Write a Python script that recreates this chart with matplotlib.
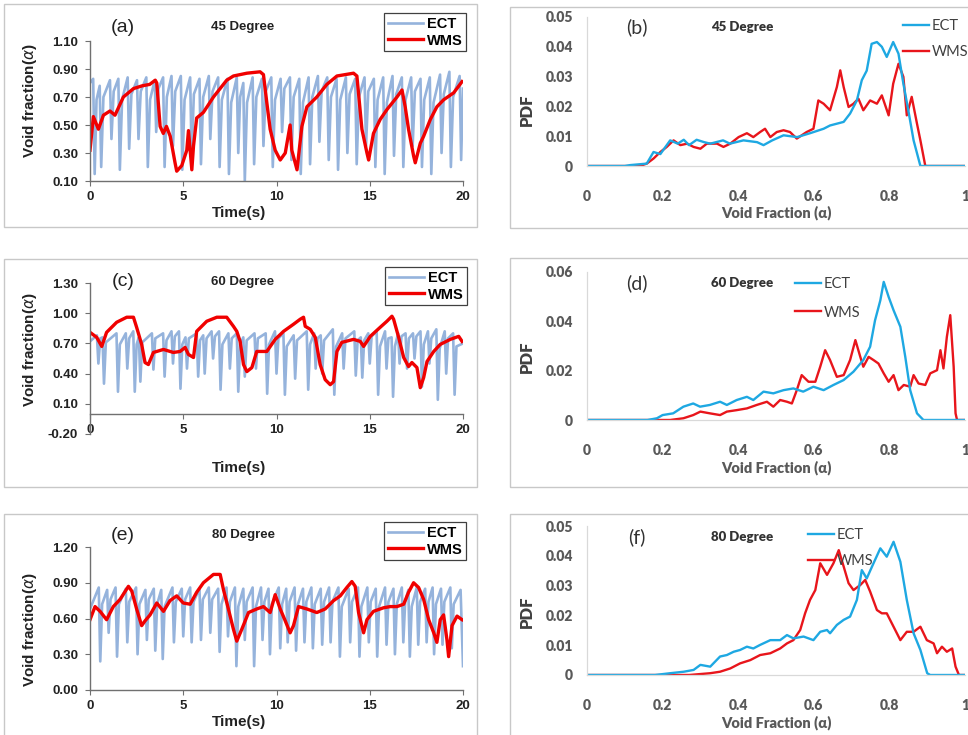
import matplotlib.pyplot as plt
from matplotlib.patches import Rectangle

# ---- time series data ----
# (a) 45 degree
ect_a_t = [0.00,
    0.17, 0.25, 0.35, 0.52, 0.60, 0.72, 1.07, 1.15, 1.27, 1.52, 1.60, 1.72, 2.02, 2.10, 2.22, 2.52, 2.60, 2.72,
    3.02, 3.10, 3.22, 3.47, 3.55, 3.67, 3.92, 4.00, 4.12, 4.37, 4.45, 4.57, 4.87, 4.95, 5.07, 5.37, 5.45, 5.57,
    5.87, 5.95, 6.07, 6.37, 6.45, 6.57, 6.87, 6.95, 7.07, 7.37, 7.45, 7.57, 7.87, 7.95, 8.05, 8.22, 8.30, 8.42,
    8.72, 8.80, 8.92, 9.22, 9.30, 9.42, 9.72, 9.80, 9.92, 10.22, 10.30, 10.42, 10.72, 10.80, 10.92, 11.22, 11.30, 11.42,
    11.72, 11.80, 11.92, 12.22, 12.30, 12.42, 12.72, 12.80, 12.92, 13.22, 13.30, 13.42, 13.72, 13.80, 13.92, 14.22, 14.30, 14.42,
    14.72, 14.80, 14.92, 15.22, 15.30, 15.42, 15.72, 15.80, 15.92, 16.22, 16.30, 16.42, 16.72, 16.80, 16.92, 17.22, 17.30, 17.42,
    17.72, 17.80, 17.92, 18.22, 18.30, 18.42, 18.77, 18.85, 18.97, 19.27, 19.35, 19.47, 19.82, 19.90, 20.00]
ect_a_v = [0.80,
    0.83, 0.15, 0.68, 0.78, 0.20, 0.70, 0.82, 0.40, 0.74, 0.83, 0.18, 0.68, 0.84, 0.33, 0.72, 0.82, 0.40, 0.74,
    0.84, 0.20, 0.68, 0.82, 0.45, 0.76, 0.84, 0.20, 0.70, 0.85, 0.35, 0.74, 0.85, 0.18, 0.68, 0.84, 0.28, 0.72,
    0.83, 0.22, 0.70, 0.85, 0.40, 0.74, 0.84, 0.20, 0.68, 0.83, 0.15, 0.66, 0.84, 0.30, 0.70, 0.80, 0.10, 0.66,
    0.84, 0.22, 0.70, 0.83, 0.35, 0.74, 0.84, 0.20, 0.68, 0.83, 0.45, 0.76, 0.84, 0.25, 0.70, 0.83, 0.15, 0.66,
    0.84, 0.22, 0.70, 0.85, 0.38, 0.74, 0.84, 0.25, 0.70, 0.83, 0.18, 0.68, 0.84, 0.30, 0.72, 0.83, 0.22, 0.70,
    0.84, 0.35, 0.74, 0.83, 0.20, 0.68, 0.84, 0.15, 0.66, 0.85, 0.28, 0.72, 0.84, 0.20, 0.68, 0.84, 0.35, 0.74,
    0.83, 0.20, 0.68, 0.84, 0.15, 0.66, 0.86, 0.30, 0.72, 0.88, 0.20, 0.70, 0.85, 0.25, 0.76]
wms_a_t = [0.00, 0.18, 0.45, 0.72, 1.07, 1.34, 1.79, 2.33, 2.80, 3.20, 3.50, 3.58, 3.76, 3.93, 4.10, 4.30,
    4.56, 4.65, 4.92, 5.19, 5.28, 5.46, 5.55, 5.72, 6.08, 6.62, 7.33, 7.69, 8.41, 9.12, 9.30, 9.48, 9.66, 9.93,
    10.20, 10.47, 10.73, 10.82, 11.10, 11.36, 11.63, 12.16, 12.70, 13.24, 14.13, 14.31, 14.58, 14.85, 14.94,
    15.20, 15.56, 15.92, 16.46, 16.73, 16.90, 17.08, 17.35, 17.44, 17.71, 17.89, 18.25, 18.60, 18.96, 19.50, 19.95]
wms_a_v = [0.32, 0.56, 0.47, 0.57, 0.60, 0.57, 0.70, 0.76, 0.78, 0.79, 0.82, 0.80, 0.49, 0.44, 0.49, 0.42,
    0.23, 0.17, 0.21, 0.32, 0.46, 0.18, 0.35, 0.55, 0.59, 0.70, 0.82, 0.85, 0.87, 0.88, 0.86, 0.66, 0.47, 0.32,
    0.25, 0.30, 0.50, 0.32, 0.18, 0.49, 0.63, 0.70, 0.79, 0.85, 0.87, 0.85, 0.47, 0.30, 0.25,
    0.44, 0.54, 0.61, 0.70, 0.75, 0.63, 0.47, 0.28, 0.23, 0.37, 0.42, 0.54, 0.63, 0.68, 0.73, 0.81]

# (c) 60 degree
ect_c_t = [0.00,
    0.37, 0.45, 0.55, 0.67, 0.75, 0.85, 1.42, 1.50, 1.60, 1.92, 2.00, 2.10, 2.32, 2.40, 2.50, 2.62, 2.70, 2.80,
    3.32, 3.40, 3.50, 3.92, 4.00, 4.10, 4.37, 4.45, 4.55, 4.77, 4.85, 4.95, 5.12, 5.20, 5.30, 5.72, 5.80, 5.90,
    6.07, 6.15, 6.25, 6.52, 6.60, 6.70, 6.92, 7.00, 7.10, 7.42, 7.50, 7.60, 7.87, 7.95, 8.05, 8.22, 8.30, 8.40,
    8.82, 8.90, 9.00, 9.42, 9.50, 9.60, 9.92, 10.00, 10.10, 10.37, 10.45, 10.55, 10.92, 11.00, 11.10, 11.62, 11.70, 11.80,
    12.02, 12.10, 12.20, 12.37, 12.45, 12.55, 13.02, 13.10, 13.20, 13.52, 13.60, 13.70, 14.17, 14.25, 14.35, 14.52, 14.60, 14.70,
    14.92, 15.00, 15.10, 15.37, 15.45, 15.55, 15.82, 15.90, 16.00, 16.17, 16.25, 16.35, 16.52, 16.60, 16.70, 16.92, 17.00, 17.10,
    17.32, 17.40, 17.50, 17.72, 17.80, 17.90, 18.12, 18.20, 18.30, 18.57, 18.65, 18.75, 19.02, 19.10, 19.20, 19.47, 19.55, 19.65,
    20.00]
ect_c_v = [0.72,
    0.78, 0.50, 0.75, 0.76, 0.30, 0.71, 0.80, 0.22, 0.69, 0.80, 0.45, 0.75, 0.82, 0.22, 0.69, 0.76, 0.32, 0.71,
    0.80, 0.44, 0.75, 0.80, 0.37, 0.73, 0.82, 0.50, 0.77, 0.82, 0.25, 0.69, 0.76, 0.45, 0.75, 0.80, 0.37, 0.73,
    0.78, 0.40, 0.75, 0.82, 0.55, 0.77, 0.82, 0.24, 0.69, 0.80, 0.45, 0.75, 0.80, 0.22, 0.69, 0.76, 0.37, 0.73,
    0.80, 0.45, 0.75, 0.80, 0.20, 0.69, 0.82, 0.40, 0.75, 0.80, 0.19, 0.67, 0.78, 0.35, 0.73, 0.82, 0.24, 0.69,
    0.80, 0.45, 0.75, 0.78, 0.40, 0.73, 0.84, 0.19, 0.67, 0.80, 0.45, 0.75, 0.82, 0.38, 0.73, 0.76, 0.36, 0.73,
    0.80, 0.50, 0.77, 0.82, 0.19, 0.67, 0.82, 0.45, 0.75, 0.76, 0.17, 0.67, 0.80, 0.50, 0.77, 0.80, 0.45, 0.75,
    0.80, 0.55, 0.77, 0.82, 0.27, 0.69, 0.82, 0.50, 0.75, 0.84, 0.14, 0.65, 0.82, 0.40, 0.75, 0.80, 0.19, 0.67,
    0.70]
wms_c_t = [0.00, 0.36, 0.63, 0.89, 1.43, 1.97, 2.33, 2.50, 2.77, 2.95, 3.13, 3.40, 3.94, 4.47, 4.83, 5.10,
    5.28, 5.55, 5.72, 6.26, 6.80, 7.33, 7.69, 7.87, 8.05, 8.23, 8.41, 8.68, 8.94, 9.48, 9.93, 10.38, 10.91,
    11.27, 11.45, 11.54, 11.81, 12.08, 12.34, 12.61, 12.88, 13.06, 13.24, 13.50, 14.13, 14.49, 14.67, 15.03,
    15.56, 15.92, 16.19, 16.28, 16.55, 16.82, 17.08, 17.26, 17.53, 17.71, 17.89, 18.07, 18.43, 18.78, 19.32,
    19.77, 19.95]
wms_c_v = [0.81, 0.76, 0.67, 0.81, 0.91, 0.96, 0.96, 0.86, 0.69, 0.51, 0.49, 0.61, 0.64, 0.61, 0.62, 0.66,
    0.59, 0.56, 0.82, 0.92, 0.96, 0.96, 0.87, 0.82, 0.72, 0.49, 0.42, 0.46, 0.62, 0.62, 0.74, 0.82, 0.89,
    0.94, 0.96, 0.87, 0.84, 0.76, 0.49, 0.34, 0.29, 0.32, 0.62, 0.71, 0.74, 0.72, 0.67, 0.77,
    0.86, 0.92, 0.97, 0.94, 0.76, 0.56, 0.47, 0.51, 0.46, 0.26, 0.36, 0.52, 0.62, 0.69, 0.74,
    0.77, 0.72]

# (e) 80 degree
ect_e_t = [0.00,
    0.47, 0.55, 0.65, 0.92, 1.00, 1.10, 1.37, 1.45, 1.55, 1.92, 2.00, 2.10, 2.47, 2.55, 2.65, 2.97, 3.05, 3.15,
    3.42, 3.50, 3.60, 3.82, 3.90, 4.00, 4.42, 4.50, 4.60, 4.92, 5.00, 5.10, 5.37, 5.45, 5.55, 5.87, 5.95, 6.05,
    6.37, 6.45, 6.55, 6.87, 6.95, 7.05, 7.32, 7.40, 7.50, 7.77, 7.85, 7.95, 8.22, 8.30, 8.40, 8.72, 8.80, 8.90,
    9.17, 9.25, 9.35, 9.57, 9.65, 9.75, 10.12, 10.20, 10.30, 10.52, 10.60, 10.70, 10.97, 11.05, 11.15, 11.42, 11.50, 11.60,
    11.87, 11.95, 12.05, 12.37, 12.45, 12.55, 12.82, 12.90, 13.00, 13.32, 13.40, 13.50, 13.87, 13.95, 14.05, 14.37, 14.45, 14.55,
    14.87, 14.95, 15.05, 15.32, 15.40, 15.50, 15.82, 15.90, 16.00, 16.27, 16.35, 16.45, 16.72, 16.80, 16.90, 17.07, 17.15, 17.25,
    17.52, 17.60, 17.70, 17.97, 18.05, 18.15, 18.37, 18.45, 18.55, 18.82, 18.90, 19.00, 19.32, 19.40, 19.50,
    19.87, 20.00]
ect_e_v = [0.68,
    0.86, 0.24, 0.72, 0.84, 0.48, 0.76, 0.86, 0.28, 0.72, 0.85, 0.40, 0.74, 0.86, 0.30, 0.72, 0.84, 0.42, 0.76,
    0.85, 0.33, 0.72, 0.84, 0.26, 0.70, 0.86, 0.40, 0.74, 0.85, 0.45, 0.76, 0.86, 0.40, 0.74, 0.85, 0.42, 0.76,
    0.86, 0.48, 0.76, 0.85, 0.32, 0.72, 0.86, 0.45, 0.74, 0.86, 0.20, 0.70, 0.85, 0.42, 0.74, 0.86, 0.20, 0.70,
    0.86, 0.42, 0.74, 0.85, 0.30, 0.72, 0.86, 0.35, 0.72, 0.85, 0.40, 0.74, 0.86, 0.33, 0.72, 0.85, 0.40, 0.74,
    0.86, 0.35, 0.72, 0.85, 0.38, 0.74, 0.86, 0.40, 0.74, 0.86, 0.28, 0.70, 0.85, 0.40, 0.74, 0.86, 0.28, 0.70,
    0.86, 0.40, 0.74, 0.85, 0.28, 0.70, 0.86, 0.38, 0.74, 0.85, 0.30, 0.72, 0.86, 0.40, 0.74, 0.84, 0.28, 0.70,
    0.86, 0.38, 0.74, 0.85, 0.40, 0.74, 0.86, 0.30, 0.72, 0.85, 0.38, 0.74, 0.86, 0.35, 0.72,
    0.84, 0.20]
wms_e_t = [0.00, 0.27, 0.54, 0.89, 1.25, 1.61, 2.06, 2.24, 2.50, 2.77, 2.95, 3.22, 3.58, 3.94, 4.29, 4.65,
    5.00, 5.37, 5.72, 6.08, 6.62, 6.98, 7.16, 7.42, 7.69, 7.87, 8.14, 8.50, 8.94, 9.30, 9.66, 9.93, 10.20,
    10.47, 10.73, 10.91, 11.18, 11.63, 12.16, 12.61, 13.06, 13.42, 13.77, 14.04, 14.22, 14.40, 14.67, 14.85,
    15.20, 15.74, 16.10, 16.46, 16.82, 17.08, 17.35, 17.62, 17.89, 18.16, 18.43, 18.60, 18.78, 18.96, 19.14,
    19.23, 19.41, 19.68, 19.95]
wms_e_v = [0.59, 0.70, 0.66, 0.59, 0.70, 0.76, 0.87, 0.83, 0.68, 0.54, 0.58, 0.63, 0.73, 0.66, 0.75, 0.79,
    0.73, 0.72, 0.82, 0.90, 0.97, 0.97, 0.84, 0.68, 0.51, 0.41, 0.51, 0.65, 0.68, 0.70, 0.65, 0.80, 0.68,
    0.58, 0.48, 0.54, 0.70, 0.68, 0.65, 0.68, 0.75, 0.79, 0.86, 0.91, 0.87, 0.65, 0.48, 0.59,
    0.66, 0.69, 0.70, 0.70, 0.72, 0.82, 0.90, 0.86, 0.76, 0.59, 0.48, 0.40, 0.59, 0.63, 0.42,
    0.28, 0.54, 0.62, 0.59]

# ---- PDF data ----
pdf_b_ect_x = [0.0, 0.10, 0.114, 0.158, 0.176, 0.194, 0.22, 0.24, 0.256, 0.27, 0.29, 0.31, 0.326, 0.36, 0.378,
    0.414, 0.45, 0.467, 0.49, 0.52, 0.556, 0.59, 0.626, 0.643, 0.661, 0.679, 0.696, 0.714, 0.727, 0.74,
    0.753, 0.767, 0.78, 0.793, 0.81, 0.824, 0.837, 0.85, 0.864, 0.882, 1.0]
pdf_b_ect_y = [0.0, 0.0, 0.0003, 0.0008, 0.0047, 0.0040, 0.0086, 0.0075, 0.0088, 0.0070, 0.0088, 0.0080, 0.0075, 0.0086, 0.0075,
    0.0086, 0.0080, 0.0070, 0.0086, 0.0103, 0.0097, 0.0110, 0.0125, 0.0136, 0.0142, 0.0148, 0.0176, 0.0220, 0.0288, 0.0320,
    0.0410, 0.0416, 0.0400, 0.0366, 0.0416, 0.0377, 0.0276, 0.0187, 0.0086, 0.0, 0.0]
pdf_b_wms_x = [0.0, 0.14, 0.158, 0.176, 0.194, 0.211, 0.229, 0.247, 0.265, 0.282, 0.30, 0.317, 0.344, 0.361, 0.379,
    0.401, 0.423, 0.44, 0.458, 0.471, 0.485, 0.502, 0.52, 0.537, 0.555, 0.581, 0.599, 0.612, 0.626, 0.643,
    0.661, 0.67, 0.679, 0.692, 0.705, 0.718, 0.731, 0.749, 0.767, 0.78, 0.798, 0.81, 0.824, 0.837, 0.846,
    0.859, 0.873, 0.882, 0.895, 1.0]
pdf_b_wms_y = [0.0, 0.0, 0.0008, 0.0025, 0.0047, 0.0064, 0.0086, 0.0070, 0.0075, 0.0064, 0.0058, 0.0075, 0.0075, 0.0064, 0.0075,
    0.0097, 0.0110, 0.0097, 0.0114, 0.0125, 0.0097, 0.0114, 0.0120, 0.0114, 0.0092, 0.0114, 0.0125, 0.0220, 0.0209, 0.0187,
    0.0265, 0.0321, 0.0265, 0.0198, 0.0209, 0.0226, 0.0187, 0.0220, 0.0209, 0.0237, 0.0170, 0.0276, 0.0343, 0.0299, 0.0170,
    0.0232, 0.0142, 0.0086, 0.0, 0.0]

pdf_d_ect_x = [0.0, 0.16, 0.185, 0.20, 0.228, 0.255, 0.281, 0.299, 0.325, 0.352, 0.37, 0.396, 0.423, 0.44, 0.467,
    0.493, 0.52, 0.546, 0.572, 0.599, 0.626, 0.652, 0.679, 0.705, 0.731, 0.749, 0.762, 0.776, 0.785, 0.798,
    0.811, 0.829, 0.842, 0.855, 0.873, 0.89, 1.0]
pdf_d_ect_y = [0.0, 0.0, 0.0007, 0.0020, 0.0027, 0.0054, 0.0067, 0.0054, 0.0061, 0.0074, 0.0061, 0.0081, 0.0094, 0.0081, 0.0115,
    0.0108, 0.0121, 0.0128, 0.0115, 0.0135, 0.0121, 0.0142, 0.0162, 0.0196, 0.0243, 0.0297, 0.0404, 0.0485, 0.0560, 0.0499,
    0.0445, 0.0378, 0.0256, 0.0121, 0.0027, 0.0, 0.0]
pdf_d_wms_x = [0.0, 0.22, 0.255, 0.281, 0.30, 0.325, 0.352, 0.37, 0.396, 0.423, 0.449, 0.476, 0.493, 0.511, 0.529,
    0.542, 0.555, 0.568, 0.586, 0.604, 0.617, 0.63, 0.643, 0.661, 0.679, 0.696, 0.71, 0.723, 0.731, 0.745,
    0.758, 0.771, 0.785, 0.798, 0.811, 0.824, 0.838, 0.855, 0.864, 0.877, 0.895, 0.908, 0.926, 0.935, 0.943,
    0.952, 0.961, 0.97, 0.975, 0.979, 1.0]
pdf_d_wms_y = [0.0, 0.0, 0.0007, 0.0020, 0.0034, 0.0027, 0.0020, 0.0034, 0.0040, 0.0047, 0.0061, 0.0074, 0.0054, 0.0081, 0.0074,
    0.0067, 0.0121, 0.0182, 0.0155, 0.0155, 0.0216, 0.0283, 0.0243, 0.0175, 0.0182, 0.0243, 0.0324, 0.0256, 0.0216, 0.0256,
    0.0243, 0.0229, 0.0189, 0.0155, 0.0182, 0.0121, 0.0142, 0.0135, 0.0182, 0.0148, 0.0142, 0.0189, 0.0202, 0.0283, 0.0209,
    0.0337, 0.0425, 0.0216, 0.0027, 0.0, 0.0]

pdf_f_ect_x = [0.0, 0.18, 0.22, 0.256, 0.282, 0.30, 0.326, 0.352, 0.37, 0.388, 0.405, 0.423, 0.44, 0.458, 0.485,
    0.511, 0.529, 0.546, 0.573, 0.599, 0.617, 0.635, 0.643, 0.661, 0.679, 0.696, 0.714, 0.727, 0.74, 0.758,
    0.776, 0.793, 0.811, 0.829, 0.846, 0.864, 0.882, 0.90, 0.908, 1.0]
pdf_f_ect_y = [0.0, 0.0, 0.0006, 0.0011, 0.0017, 0.0034, 0.0028, 0.0062, 0.0067, 0.0078, 0.0084, 0.0095, 0.0089, 0.0101, 0.0117,
    0.0117, 0.0134, 0.0123, 0.0129, 0.0117, 0.0145, 0.0151, 0.0140, 0.0168, 0.0185, 0.0196, 0.0252, 0.0352, 0.0324, 0.0375,
    0.0425, 0.0397, 0.0447, 0.0380, 0.0252, 0.0140, 0.0084, 0.0006, 0.0, 0.0]
pdf_f_wms_x = [0.0, 0.27, 0.326, 0.352, 0.379, 0.405, 0.432, 0.458, 0.485, 0.511, 0.529, 0.546, 0.564, 0.577, 0.59,
    0.604, 0.617, 0.635, 0.652, 0.666, 0.679, 0.692, 0.705, 0.723, 0.736, 0.749, 0.767, 0.78, 0.793, 0.811,
    0.829, 0.846, 0.864, 0.882, 0.899, 0.917, 0.926, 0.939, 0.952, 0.966, 0.975, 0.984, 1.0]
pdf_f_wms_y = [0.0, 0.0, 0.0006, 0.0011, 0.0022, 0.0039, 0.0050, 0.0067, 0.0073, 0.0089, 0.0106, 0.0117, 0.0151, 0.0207, 0.0252,
    0.0285, 0.0375, 0.0336, 0.0375, 0.0419, 0.0364, 0.0308, 0.0285, 0.0302, 0.0319, 0.0280, 0.0218, 0.0207, 0.0207, 0.0162,
    0.0117, 0.0145, 0.0145, 0.0162, 0.0117, 0.0106, 0.0073, 0.0095, 0.0078, 0.0089, 0.0028, 0.0, 0.0]

time_ticks = [0, 5, 10, 15, 20]
vf_ticks = [0, 0.2, 0.4, 0.6, 0.8, 1.0]
vf_labels = ['0', '0.2', '0.4', '0.6', '0.8', '1']

W, H = 968, 735
fig = plt.figure(figsize=(W / 100, H / 100), dpi=100)
fig.patch.set_facecolor('white')

LEFT_FONT = 'Liberation Sans'
RIGHT_FONT = 'Lato'
ECT_L = '#95B3DC'
WMS_L = '#F00000'
ECT_R = '#1EA8E2'
WMS_R = '#E8151B'


def fx(x):
    return x / W


def fy(y):
    return 1 - y / H


def px_axes(x0, y0, x1, y1):
    return fig.add_axes([fx(x0), fy(y1), (x1 - x0) / W, (y1 - y0) / H])


def box(x0, y0, x1, y1):
    fig.add_artist(Rectangle((fx(x0), fy(y1)), (x1 - x0) / W, (y1 - y0) / H,
                             transform=fig.transFigure, fill=False, ec='#C8C8C8', lw=1))


def time_panel(ax_box, ylim, yticks, ect_t, ect_v, wms_t, wms_v, letter, title, title_y,
               leg_xy, ylab_y, xlab_y, zero_axis=False):
    ax = px_axes(*ax_box)
    ax.plot(ect_t, ect_v, color=ECT_L, lw=1.9, label='ECT')
    ax.plot(wms_t, wms_v, color=WMS_L, lw=2.4, label='WMS')
    ax.set_xlim(0, 20)
    ax.set_ylim(*ylim)
    ax.set_xticks(time_ticks)
    ax.set_yticks(yticks)
    ax.set_yticklabels(['%.2f' % v for v in yticks])
    for s in ['top', 'right']:
        ax.spines[s].set_visible(False)
    for s in ['left', 'bottom']:
        ax.spines[s].set_color('#707070')
        ax.spines[s].set_linewidth(1)
    if zero_axis:
        ax.spines['bottom'].set_position(('data', 0))
    ax.tick_params(axis='both', direction='out', length=3.5, color='#707070', labelcolor='#222222')
    ax.tick_params(axis='x', pad=4)
    ax.tick_params(axis='y', pad=5)
    for lab in ax.get_xticklabels() + ax.get_yticklabels():
        lab.set_fontfamily(LEFT_FONT)
        lab.set_fontweight('bold')
        lab.set_fontsize(9.5)
    ax.patch.set_alpha(0)
    leg = ax.legend(loc='upper left', bbox_to_anchor=(fx(leg_xy[0]), fy(leg_xy[1])),
                    bbox_transform=fig.transFigure, fancybox=False, edgecolor='#404040',
                    framealpha=1, borderpad=0.25, handlelength=2.4, handletextpad=0.3,
                    labelspacing=0.2, borderaxespad=0,
                    prop={'family': LEFT_FONT, 'weight': 'bold', 'size': 10.5})
    leg.get_frame().set_linewidth(0.9)
    fig.text(fx(123), fy(title_y), letter, family=LEFT_FONT, fontsize=14,
             ha='center', va='center', color='#222222')
    fig.text(fx(243), fy(title_y), title, family=LEFT_FONT, fontsize=9.5, weight='bold',
             ha='center', va='center', color='#222222')
    fig.text(fx(30), fy(ylab_y), 'Void fraction($\\alpha$)', family=LEFT_FONT, fontsize=11,
             weight='bold', rotation=90, ha='center', va='center', color='#222222')
    fig.text(fx(239), fy(xlab_y), 'Time(s)', family=LEFT_FONT, fontsize=11, weight='bold',
             ha='center', va='center', color='#222222')
    return ax


def pdf_panel(ax_box, ymax, yticks, ylabels, ect_x, ect_y, wms_x, wms_y, letter, title, title_y,
              leg_xy, leg_gap, ylab_y, xlab_y):
    ax = px_axes(*ax_box)
    l_wms, = ax.plot(wms_x, wms_y, color=WMS_R, lw=1.7, label='WMS')
    l_ect, = ax.plot(ect_x, ect_y, color=ECT_R, lw=1.7, label='ECT')
    ax.set_xlim(0, 1)
    ax.set_ylim(0, ymax)
    ax.set_xticks(vf_ticks)
    ax.set_xticklabels(vf_labels)
    ax.set_yticks(yticks)
    ax.set_yticklabels(ylabels)
    for s in ['top', 'right']:
        ax.spines[s].set_visible(False)
    for s in ['left', 'bottom']:
        ax.spines[s].set_color('#D9D9D9')
        ax.spines[s].set_linewidth(0.9)
    ax.tick_params(axis='both', length=0, labelcolor='#595959')
    ax.tick_params(axis='x', pad=17)
    ax.tick_params(axis='y', pad=10)
    for lab in ax.get_xticklabels() + ax.get_yticklabels():
        lab.set_fontfamily(RIGHT_FONT)
        lab.set_fontweight('heavy')
        lab.set_fontsize(10)
    ax.patch.set_alpha(0)
    leg = ax.legend(handles=[l_ect, l_wms], loc='upper left',
                    bbox_to_anchor=(fx(leg_xy[0]), fy(leg_xy[1])), bbox_transform=fig.transFigure,
                    frameon=False, borderpad=0, borderaxespad=0, handlelength=1.8,
                    handletextpad=0.15, labelspacing=leg_gap,
                    prop={'family': RIGHT_FONT, 'size': 10.5})
    for t in leg.get_texts():
        t.set_color('#404040')
    fig.text(fx(637), fy(title_y), letter, family=RIGHT_FONT, fontsize=14,
             ha='center', va='center', color='#333333')
    fig.text(fx(742), fy(title_y), title, family=RIGHT_FONT, fontsize=9.5, weight='heavy',
             ha='center', va='center', color='#333333')
    fig.text(fx(527), fy(ylab_y), 'PDF', family=RIGHT_FONT, fontsize=12, weight='heavy',
             rotation=90, ha='center', va='center', color='#404040')
    fig.text(fx(776), fy(xlab_y), 'Void Fraction (\u03b1)', family=RIGHT_FONT, fontsize=10.5,
             weight='heavy', ha='center', va='center', color='#595959')
    return ax


# outer frames
box(4, 4, 477, 227)
box(510, 7, 975, 228)
box(4, 259, 477, 487)
box(510, 258, 975, 487)
box(4, 514, 477, 740)
box(510, 514, 975, 740)

time_panel((90, 41, 463, 181), (0.10, 1.10), [0.10, 0.30, 0.50, 0.70, 0.90, 1.10],
           ect_a_t, ect_a_v, wms_a_t, wms_a_v, '(a)', '45 Degree', 27, (384, 13), 101, 213)
time_panel((90, 283, 463, 434), (-0.20, 1.30), [-0.20, 0.10, 0.40, 0.70, 1.00, 1.30],
           ect_c_t, ect_c_v, wms_c_t, wms_c_v, '(c)', '60 Degree', 282, (385, 267), 350, 468,
           zero_axis=True)
time_panel((90, 547, 463, 690), (0.0, 1.20), [0.0, 0.30, 0.60, 0.90, 1.20],
           ect_e_t, ect_e_v, wms_e_t, wms_e_v, '(e)', '80 Degree', 535, (384, 522), 630, 722)

pdf_panel((587, 17, 965, 166), 0.05, [0, 0.01, 0.02, 0.03, 0.04, 0.05],
          ['0', '0.01', '0.02', '0.03', '0.04', '0.05'],
          pdf_b_ect_x, pdf_b_ect_y, pdf_b_wms_x, pdf_b_wms_y, '(b)', '45 Degree', 27,
          (903, 19), 0.85, 110, 213)
pdf_panel((587, 272, 965, 420), 0.06, [0, 0.02, 0.04, 0.06], ['0', '0.02', '0.04', '0.06'],
          pdf_d_ect_x, pdf_d_ect_y, pdf_d_wms_x, pdf_d_wms_y, '(d)', '60 Degree', 283,
          (795, 277), 1.0, 357, 468)
pdf_panel((587, 526, 965, 675), 0.05, [0, 0.01, 0.02, 0.03, 0.04, 0.05],
          ['0', '0.01', '0.02', '0.03', '0.04', '0.05'],
          pdf_f_ect_x, pdf_f_ect_y, pdf_f_wms_x, pdf_f_wms_y, '(f)', '80 Degree', 537,
          (808, 528), 0.85, 612, 723)

fig.savefig('out.png', dpi=100, facecolor='white')
